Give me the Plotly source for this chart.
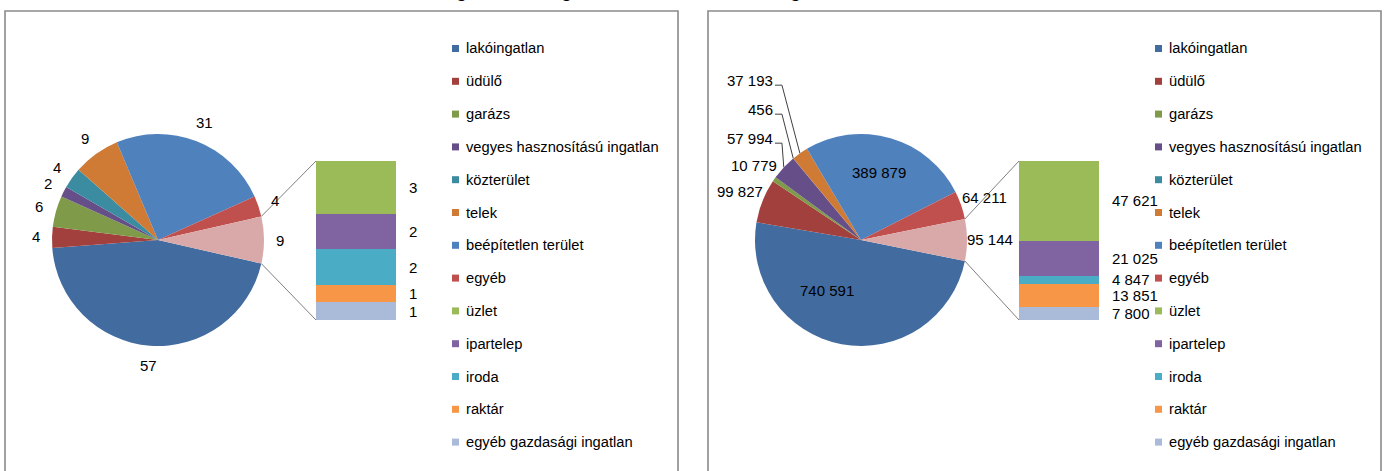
import math
import plotly.graph_objects as go

W, H = 1387, 471

# ---- data -------------------------------------------------------------
main_categories = [
    "lakóingatlan", "üdülő", "garázs", "vegyes hasznosítású ingatlan",
    "közterület", "telek", "beépítetlen terület", "egyéb",
]
sub_categories = ["üzlet", "ipartelep", "iroda", "raktár", "egyéb gazdasági ingatlan"]

count_main = [57, 4, 6, 2, 4, 9, 31, 4]
count_sub = [3, 2, 2, 1, 1]

value_main = [740591, 99827, 10779, 57994, 456, 37193, 389879, 64211]
value_sub = [47621, 21025, 4847, 13851, 7800]

title_text = "Ingatlanok megoszlása darabszám és forgalmi érték szerint"

# ---- styling ------------------------------------------------------------
main_colors = ["#426B9F", "#A2403D", "#7F9B49", "#664F88", "#3B8CA1", "#CF7B36",
               "#4F81BD", "#C0504D"]
sub_colors = ["#9BBB59", "#8064A2", "#4BACC6", "#F79646", "#AABAD9"]
other_color = "#D9A9A9"
FONT = "Liberation Sans, Arial, sans-serif"
LABEL_SIZE = 15
LEGEND_SIZE = 14.7
R = 106            # pie radius (px)
PIE_CX, PIE_CY = 158, 240
BAR_X0, BAR_X1, BAR_TOP, BAR_BOT = 316, 396, 161, 320
PANEL_X0, PANEL_X1, PANEL_TOP = 5, 678, 11
PANEL_SHIFT = 703
LEGEND_Y0, LEGEND_STEP = 48.5, 32.8


def px(x):
    return x / W


def py(y):
    return 1 - y / H


def fmt_space(v):
    return f"{v:,}".replace(",", " ")


def half_width(s, size=LABEL_SIZE):
    return sum(0.278 if c == " " else 0.556 for c in s) * size / 2


panels = [
    dict(main=count_main, sub=count_sub, fmt=str, inside=set(), leader=[],
         nudge={}),
    dict(main=value_main, sub=value_sub, fmt=fmt_space,
         inside={"lakóingatlan", "beépítetlen terület"},
         leader=["vegyes hasznosítású ingatlan", "közterület", "telek"],
         nudge={"lakóingatlan": (-22, -14), "beépítetlen terület": (0, -4)}),
]

fig = go.Figure()
shapes = []
annotations = []

for k, p in enumerate(panels):
    dx = k * PANEL_SHIFT
    cx, cy = PIE_CX + dx, PIE_CY
    other = sum(p["sub"])
    vals = p["main"] + [other]
    total = sum(vals)
    half_other = 180 * other / total
    rotation = 90 + half_other

    # panel frame
    shapes.append(dict(type="rect", xref="paper", yref="paper",
                       x0=px(PANEL_X0 + dx), x1=px(PANEL_X1 + dx),
                       y0=-0.1, y1=py(PANEL_TOP),
                       line=dict(color="#8A8A8A", width=1.6), fillcolor="rgba(0,0,0,0)"))

    # pie
    fig.add_trace(go.Pie(
        values=vals, labels=main_categories + ["_other"],
        marker=dict(colors=main_colors + [other_color], line=dict(width=0)),
        sort=False, direction="clockwise", rotation=rotation,
        textinfo="none", showlegend=False, hoverinfo="label+value",
        domain=dict(x=[px(cx - R), px(cx + R)], y=[py(cy + R), py(cy - R)]),
    ))

    # stacked bar of the "other" slice
    xa = "x" if k == 0 else f"x{k + 1}"
    ya = "y" if k == 0 else f"y{k + 1}"
    for name, v, col in reversed(list(zip(sub_categories, p["sub"], sub_colors))):
        fig.add_trace(go.Bar(x=[0], y=[v], width=[1], name=name, marker_color=col,
                             marker_line_width=0, showlegend=False,
                             xaxis=xa, yaxis=ya, hoverinfo="name+y"))
    ax_key = "xaxis" if k == 0 else f"xaxis{k + 1}"
    ay_key = "yaxis" if k == 0 else f"yaxis{k + 1}"
    fig.layout[ax_key] = dict(domain=[px(BAR_X0 + dx), px(BAR_X1 + dx)],
                              range=[-0.5, 0.5], visible=False, fixedrange=True,
                              anchor=ya)
    fig.layout[ay_key] = dict(domain=[py(BAR_BOT), py(BAR_TOP)], range=[0, other],
                              visible=False, fixedrange=True, anchor=xa)

    # bar value labels at segment centres
    acc = 0
    for v in p["sub"]:
        centre = BAR_TOP + (acc + v / 2) / other * (BAR_BOT - BAR_TOP)
        acc += v
        annotations.append(dict(x=px(BAR_X1 + dx + 11), y=py(centre), xref="paper",
                                yref="paper", text=p["fmt"](v), showarrow=False,
                                xanchor="left", yanchor="middle",
                                font=dict(size=LABEL_SIZE, color="#000", family=FONT)))

    # connectors from the "other" slice to the bar
    for ang, by in ((90 - half_other, BAR_TOP), (90 + half_other, BAR_BOT)):
        a = math.radians(ang)
        shapes.append(dict(type="line", xref="paper", yref="paper",
                           x0=px(cx + R * math.sin(a)), y0=py(cy - R * math.cos(a)),
                           x1=px(BAR_X0 + dx), y1=py(by),
                           line=dict(color="#7F7F7F", width=1)))

    # pie labels
    a0 = rotation
    mids = []
    for v in vals:
        span = 360 * v / total
        mids.append(a0 + span / 2)
        a0 += span
    names = main_categories + ["_other"]
    pos = {}
    for name, v, mid in zip(names, vals, mids):
        a = math.radians(mid)
        s, c = math.sin(a), math.cos(a)
        txt = p["fmt"](v)
        if name in p["inside"]:
            d = 0.62 * R
        else:
            d = R + 14.4 + 0.388 * abs(s) * half_width(txt) + 0.83 * abs(c) * 6
        x, y = cx + d * s, cy - d * c
        nx, ny = p["nudge"].get(name, (0, 0))
        pos[name] = (x + nx, y + ny, txt, mid)

    # stacked labels with leader lines for crowded small slices
    if p["leader"]:
        gx, gy, gt, _ = pos["garázs"]
        right = gx + half_width(gt) - 4
        for i, name in enumerate(p["leader"]):
            _, _, txt, mid = pos[name]
            y = gy - 27 - 29 * i
            hw = half_width(txt)
            pos[name] = (right - hw, y, txt, mid)
            a = math.radians(mid)
            ex, ey = cx + R * math.sin(a), cy - R * math.cos(a)
            fig.add_trace(go.Scatter(
                x=[px(right + 2), px(right + 9), px(ex)],
                y=[py(y + 5), py(y + 5), py(ey)],
                mode="lines", line=dict(color="#404040", width=1),
                showlegend=False, hoverinfo="skip", xaxis="x3", yaxis="y3"))

    for name, (x, y, txt, _) in pos.items():
        annotations.append(dict(x=px(x), y=py(y), xref="paper", yref="paper", text=txt,
                                showarrow=False, xanchor="center", yanchor="middle",
                                font=dict(size=LABEL_SIZE, color="#000", family=FONT)))

    # legend
    for i, (name, col) in enumerate(zip(main_categories + sub_categories,
                                        main_colors + sub_colors)):
        yy = LEGEND_Y0 + i * LEGEND_STEP
        shapes.append(dict(type="rect", xref="paper", yref="paper",
                           x0=px(452 + dx), x1=px(459 + dx),
                           y0=py(yy + 3.5), y1=py(yy - 3.5),
                           fillcolor=col, line=dict(width=0)))
        annotations.append(dict(x=px(463.5 + dx), y=py(yy), xref="paper", yref="paper",
                                text=name, showarrow=False, xanchor="left",
                                yanchor="middle",
                                font=dict(size=LEGEND_SIZE, color="#000", family=FONT)))

# title, sitting mostly above the top edge
annotations.append(dict(x=0.5, y=1, xref="paper", yref="paper", text=f"<b>{title_text}</b>",
                        showarrow=False, xanchor="center", yanchor="bottom", borderpad=0,
                        yshift=-2, font=dict(size=18, color="#000", family=FONT)))

fig.update_layout(
    xaxis3=dict(domain=[0, 1], range=[0, 1], visible=False, fixedrange=True, anchor="y3"),
    yaxis3=dict(domain=[0, 1], range=[0, 1], visible=False, fixedrange=True, anchor="x3"),
)

fig.update_layout(
    width=W, height=H, margin=dict(l=0, r=0, t=0, b=0),
    paper_bgcolor="white", plot_bgcolor="rgba(0,0,0,0)",
    barmode="stack", bargap=0, showlegend=False,
    shapes=shapes, annotations=annotations,
    font=dict(family=FONT),
)

fig.write_html("out.html")
